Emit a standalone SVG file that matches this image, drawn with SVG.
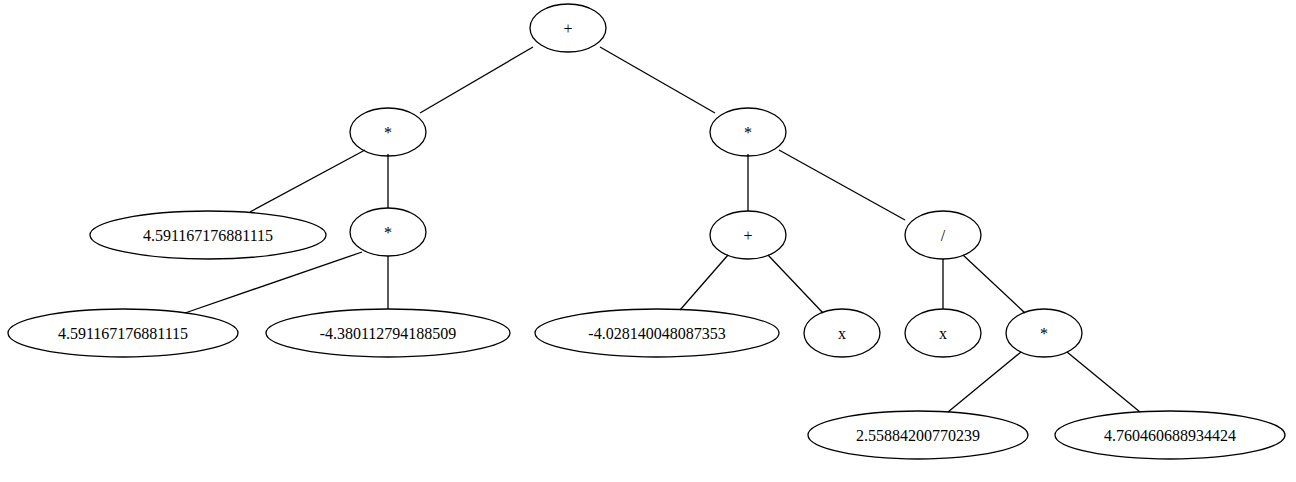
<svg xmlns="http://www.w3.org/2000/svg" width="1296" height="482" viewBox="0 0 1296 482">
<style>
ellipse{fill:none;stroke:#000;stroke-width:1.3}
line{stroke:#000;stroke-width:1.3}
text{font-family:"Liberation Serif",serif;font-size:16px;text-anchor:middle;dominant-baseline:central;fill:#000}
</style>
<rect width="1296" height="482" fill="#fff"/>
<g id="edges">
<line x1="533" y1="47" x2="420" y2="113"/>
<line x1="600" y1="47" x2="715" y2="113"/>
<line x1="365" y1="150" x2="250" y2="212"/>
<line x1="388" y1="154" x2="388" y2="208"/>
<line x1="362" y1="252" x2="185" y2="313"/>
<line x1="388" y1="256" x2="388" y2="309"/>
<line x1="748" y1="154" x2="748" y2="211"/>
<line x1="779" y1="150" x2="905" y2="220"/>
<line x1="728" y1="255" x2="680" y2="310"/>
<line x1="768" y1="255" x2="823" y2="313"/>
<line x1="943" y1="259" x2="943" y2="309"/>
<line x1="963" y1="255" x2="1025" y2="313"/>
<line x1="1021" y1="352" x2="948" y2="412"/>
<line x1="1067" y1="352" x2="1140" y2="412"/>
</g>
<g id="n0"><ellipse cx="568" cy="28" rx="38" ry="24"/><text x="568" y="28">+</text></g>
<g id="n1"><ellipse cx="388" cy="132" rx="38" ry="24"/><text x="388" y="132">*</text></g>
<g id="n2"><ellipse cx="748" cy="132" rx="38" ry="24"/><text x="748" y="132">*</text></g>
<g id="n3"><ellipse cx="208" cy="235" rx="118" ry="24"/><text x="208" y="235">4.591167176881115</text></g>
<g id="n4"><ellipse cx="388" cy="232" rx="38" ry="24"/><text x="388" y="232">*</text></g>
<g id="n5"><ellipse cx="123" cy="333" rx="115" ry="24"/><text x="123" y="333">4.591167176881115</text></g>
<g id="n6"><ellipse cx="388" cy="333" rx="122" ry="24"/><text x="388" y="333">-4.380112794188509</text></g>
<g id="n7"><ellipse cx="748" cy="235" rx="38" ry="24"/><text x="748" y="235">+</text></g>
<g id="n8"><ellipse cx="943" cy="235" rx="38" ry="24"/><text x="943" y="235">/</text></g>
<g id="n9"><ellipse cx="657" cy="333" rx="122" ry="24"/><text x="657" y="333">-4.028140048087353</text></g>
<g id="n10"><ellipse cx="842" cy="333" rx="38" ry="24"/><text x="842" y="333">x</text></g>
<g id="n11"><ellipse cx="943" cy="333" rx="38" ry="24"/><text x="943" y="333">x</text></g>
<g id="n12"><ellipse cx="1044" cy="333" rx="38" ry="24"/><text x="1044" y="333">*</text></g>
<g id="n13"><ellipse cx="918" cy="435" rx="110" ry="24"/><text x="918" y="435">2.55884200770239</text></g>
<g id="n14"><ellipse cx="1170" cy="435" rx="115" ry="24"/><text x="1170" y="435">4.760460688934424</text></g>
</svg>
